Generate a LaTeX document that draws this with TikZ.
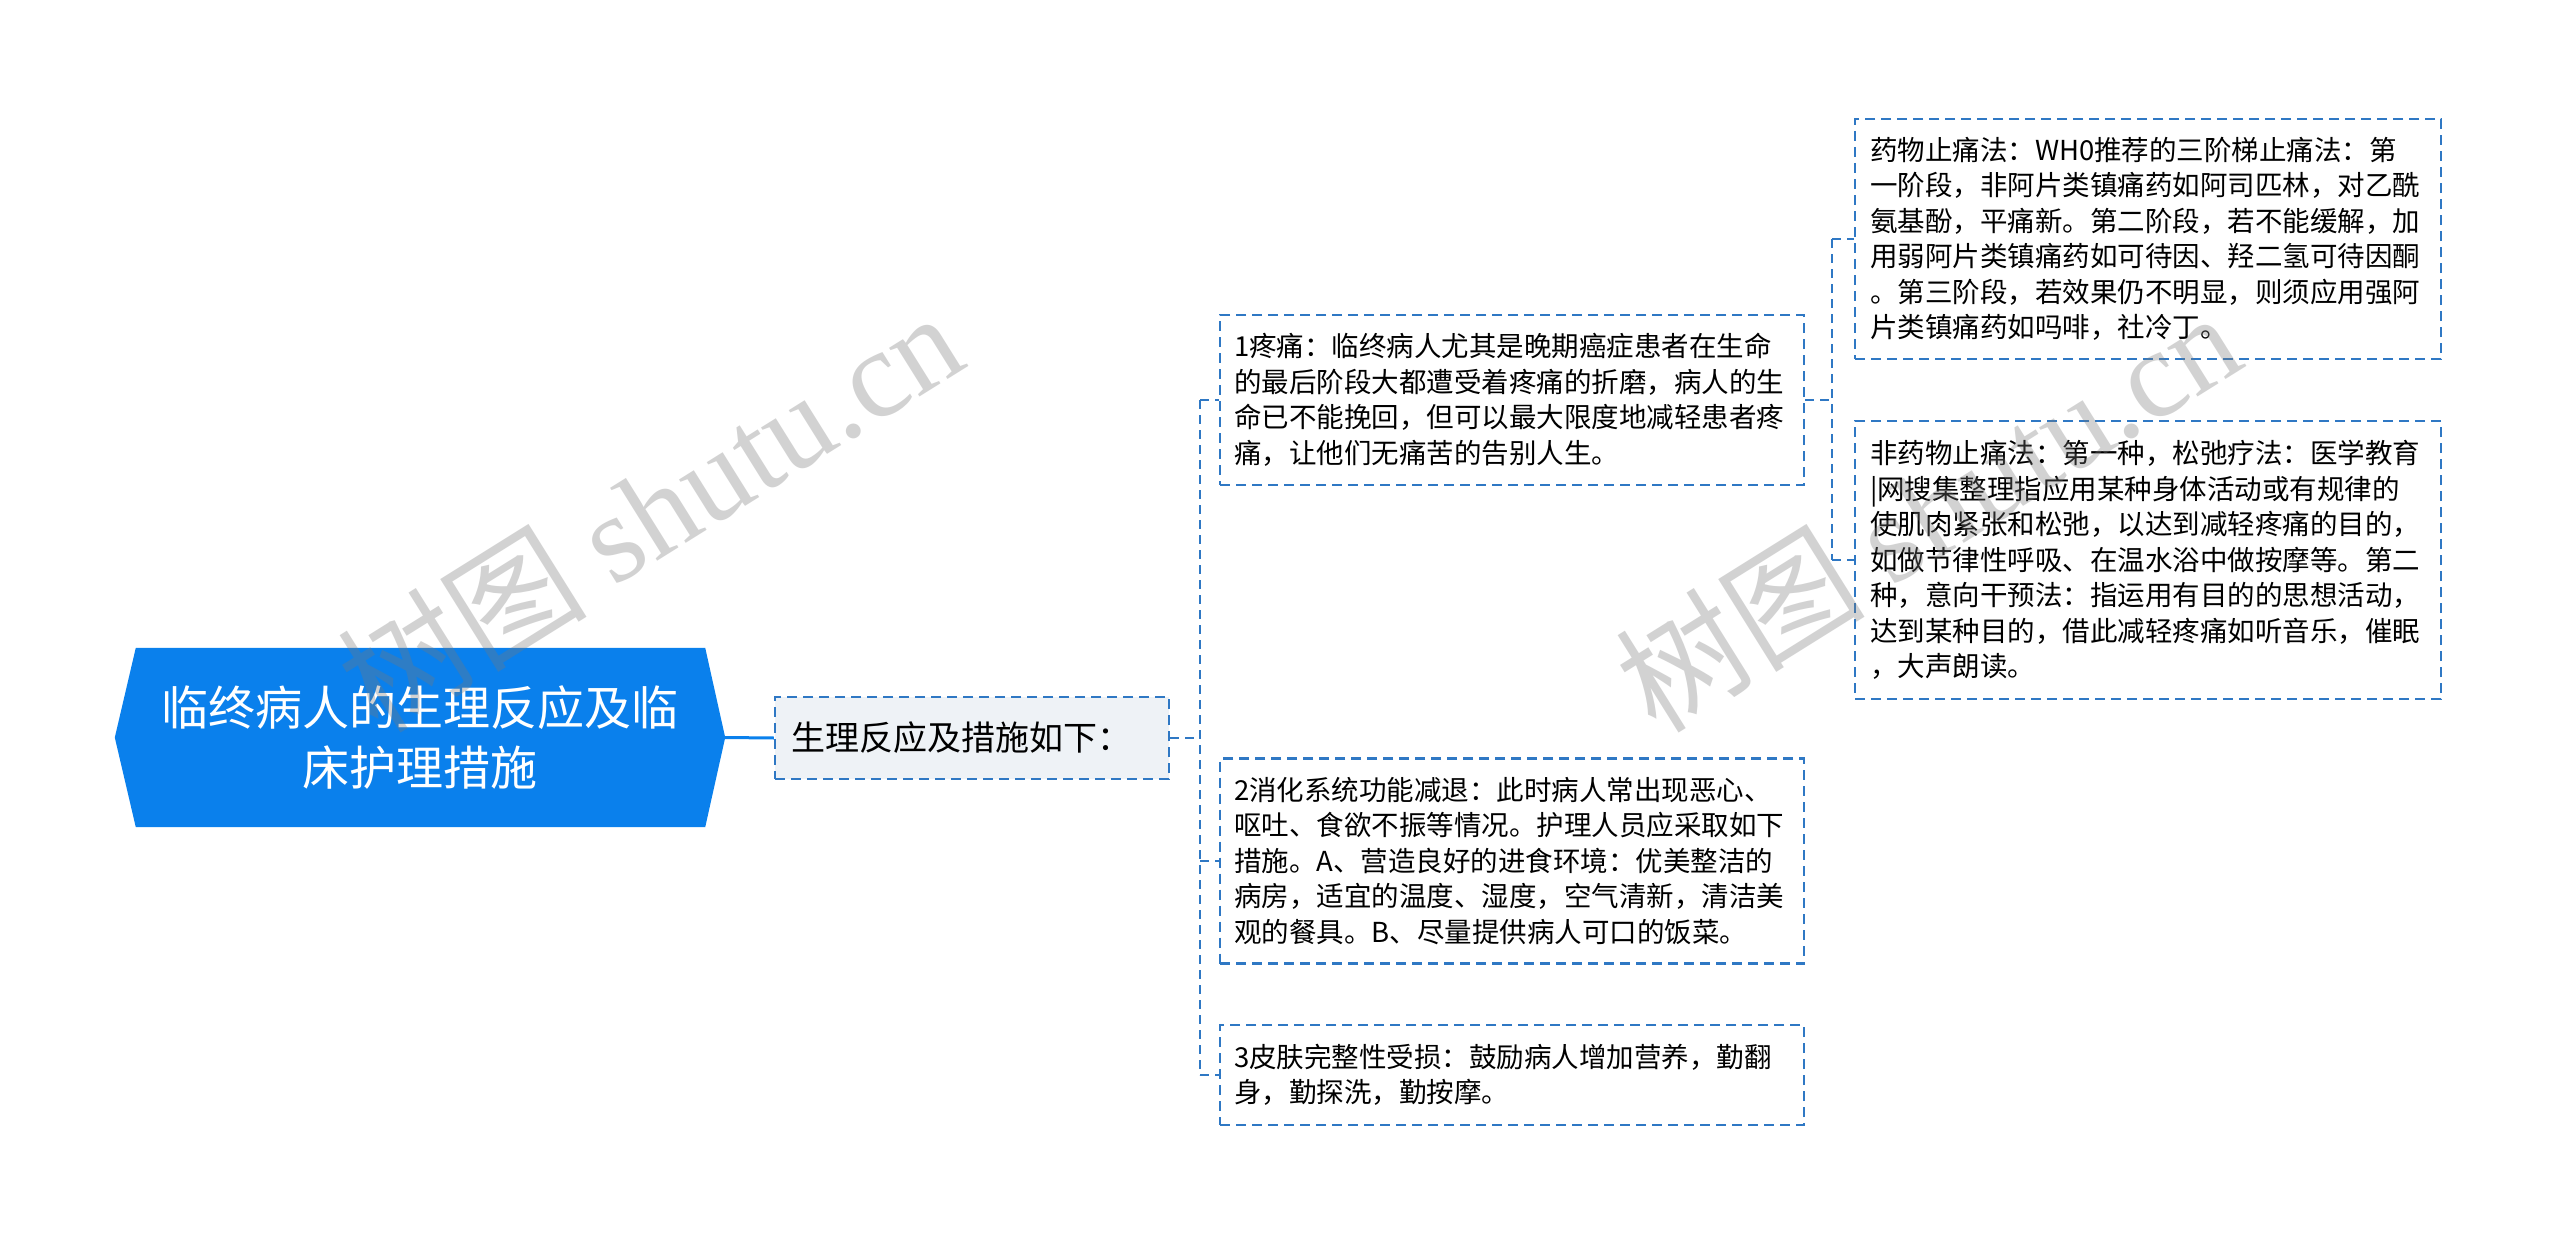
\documentclass[tikz,border=0pt]{standalone}
\usepackage{fontspec}
\setmainfont{Noto Sans CJK SC}
\newfontfamily\cjk{Noto Sans CJK SC}
\newfontfamily\wmlatin{Liberation Serif}
\usetikzlibrary{backgrounds}
\definecolor{rootblue}{RGB}{10,128,236}
\definecolor{linecol}{RGB}{47,120,196}
\definecolor{childfill}{RGB}{238,242,246}
\definecolor{wmgray}{RGB}{120,120,120}
\tikzset{
  conn/.style={draw=linecol, line width=2.2pt, dash pattern=on 9pt off 6pt},
  rootline/.style={draw=rootblue, line width=3pt},
  leafbox/.style={draw=linecol, line width=2.2pt, dash pattern=on 10pt off 6pt,
    align=left, inner ysep=0pt, inner xsep=14pt, text width=556pt,
    font=\fontsize{27.5}{35.5}\selectfont, text=black, anchor=center},
  childbox/.style={draw=linecol, fill=childfill, line width=2.2pt, dash pattern=on 10pt off 6pt,
    align=left, inner ysep=0pt, inner xsep=16pt, text width=362pt, minimum height=82pt,
    font=\fontsize{34}{42}\selectfont, text=black},
  rootnode/.style={align=center, text=white, minimum width=610pt, minimum height=179pt,
    inner sep=0pt, font=\fontsize{47}{60}\selectfont},
  wm/.style={text=wmgray, opacity=0.33, font=\fontsize{125}{130}\selectfont, inner sep=0pt}
}
\begin{document}
\begin{tikzpicture}[x=1pt,y=-1pt]
\useasboundingbox (0,0) rectangle (2560,1244);

\node[rootnode] (root) at (420,737.5) {临终病人的生理反应及临\\床护理措施};
\begin{scope}[on background layer]
\fill[white] (0,0) rectangle (2560,1244);
\fill[rootblue] ([xshift=21pt]root.north west) -- ([xshift=-20pt]root.north east) -- (root.east)
  -- ([xshift=-20pt]root.south east) -- ([xshift=21pt]root.south west) -- (root.west) -- cycle;
\end{scope}

\node[childbox] (child) at (972,738) {生理反应及措施如下：};

\node[leafbox, minimum height=170pt] (b1) at (1512,400) {1疼痛：临终病人尤其是晚期癌症患者在生命\\
的最后阶段大都遭受着疼痛的折磨，病人的生\\
命已不能挽回，但可以最大限度地减轻患者疼\\
痛，让他们无痛苦的告别人生。};

\node[leafbox, minimum height=205pt] (b2) at (1512,861) {2消化系统功能减退：此时病人常出现恶心、\\
呕吐、食欲不振等情况。护理人员应采取如下\\
措施。A、营造良好的进食环境：优美整洁的\\
病房，适宜的温度、湿度，空气清新，清洁美\\
观的餐具。B、尽量提供病人可口的饭菜。};

\node[leafbox, minimum height=100pt] (b3) at (1512,1075) {3皮肤完整性受损：鼓励病人增加营养，勤翻\\
身，勤探洗，勤按摩。};

\node[leafbox, minimum height=240pt, inner xsep=15pt] (bA) at (2148,239) {药物止痛法：WH0推荐的三阶梯止痛法：第\\
一阶段，非阿片类镇痛药如阿司匹林，对乙酰\\
氨基酚，平痛新。第二阶段，若不能缓解，加\\
用弱阿片类镇痛药如可待因、羟二氢可待因酮\\
。第三阶段，若效果仍不明显，则须应用强阿\\
片类镇痛药如吗啡，社冷丁。};

\node[leafbox, minimum height=278pt, inner xsep=15pt] (bB) at (2148,560) {非药物止痛法：第一种，松弛疗法：医学教育\\
|网搜集整理指应用某种身体活动或有规律的\\
使肌肉紧张和松弛，以达到减轻疼痛的目的，\\
如做节律性呼吸、在温水浴中做按摩等。第二\\
种，意向干预法：指运用有目的的思想活动，\\
达到某种目的，借此减轻疼痛如听音乐，催眠\\
，大声朗读。};

% connectors
\draw[rootline] (root.east) -- (child.west);
\coordinate (j1) at (1200,738);
\draw[conn] (child.east) -- (j1);
\draw[conn] (b1.west -| j1) -- (b3.west -| j1);
\draw[conn] (b1.west -| j1) -- (b1.west);
\draw[conn] (b2.west -| j1) -- (b2.west);
\draw[conn] (b3.west -| j1) -- (b3.west);
\coordinate (j2) at (1832,400);
\draw[conn] (b1.east) -- (j2);
\draw[conn] (bA.west -| j2) -- (bB.west -| j2);
\draw[conn] (bA.west -| j2) -- (bA.west);
\draw[conn] (bB.west -| j2) -- (bB.west);

% watermarks
\node[wm, rotate=32] (wm1) at (649,510) {{\cjk 树图} {\wmlatin shutu.cn}};
\node[wm, rotate=32] (wm2) at (1927,510) {{\cjk 树图} {\wmlatin shutu.cn}};
\end{tikzpicture}
\end{document}
